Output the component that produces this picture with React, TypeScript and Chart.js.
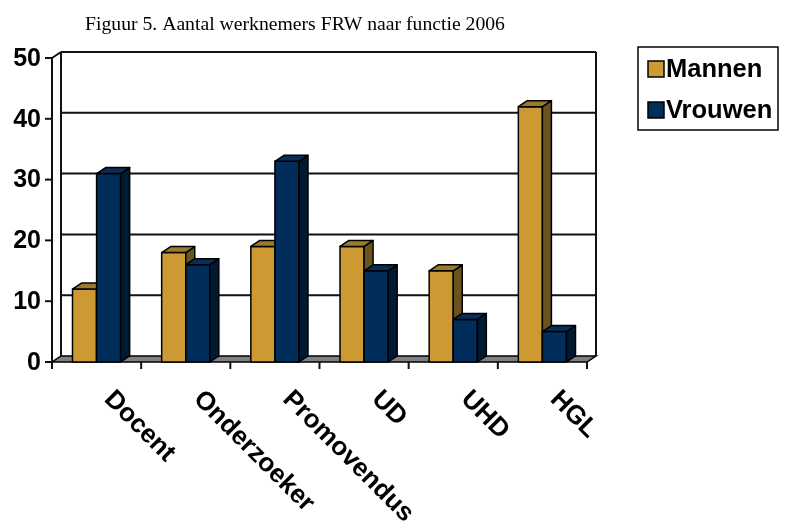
import React, { useEffect, useRef } from "react";
import { Chart, registerables } from "chart.js";

Chart.register(...registerables);

const TITLE = "Figuur 5. Aantal werknemers FRW naar functie 2006";
const CATEGORIES = ["Docent", "Onderzoeker", "Promovendus", "UD", "UHD", "HGL"];
const MANNEN = [12, 18, 19, 19, 15, 42];
const VROUWEN = [31, 16, 33, 15, 7, 5];
const SERIES_NAMES = ["Mannen", "Vrouwen"];
const Y_TICKS = [0, 10, 20, 30, 40, 50];

const FACE = [
  { front: "#CC9933", top: "#9C7A2C", side: "#6B5221" },
  { front: "#002D59", top: "#0A2D55", side: "#001A33" },
];

const DX = 9;
const DY = 6;

const threeD = {
  id: "threeD",
  beforeDatasetsDraw(chart: any) {
    const ctx = chart.ctx;
    const { left, right, top, bottom } = chart.chartArea;
    const y = chart.scales.y;
    const x = chart.scales.x;
    ctx.save();
    // floor
    ctx.beginPath();
    ctx.moveTo(left, bottom);
    ctx.lineTo(right, bottom);
    ctx.lineTo(right + DX, bottom - DY);
    ctx.lineTo(left + DX, bottom - DY);
    ctx.closePath();
    ctx.fillStyle = "#808080";
    ctx.fill();
    ctx.strokeStyle = "#000";
    ctx.lineWidth = 1.5;
    ctx.stroke();
    // back wall gridlines
    ctx.lineWidth = 2;
    ctx.strokeStyle = "#111";
    for (const v of Y_TICKS) {
      if (v === 0) continue;
      const py = y.getPixelForValue(v) - DY;
      ctx.beginPath();
      ctx.moveTo(left + DX, py);
      ctx.lineTo(right + DX, py);
      ctx.stroke();
    }
    // wall edges
    ctx.beginPath();
    ctx.moveTo(left + DX, top - DY);
    ctx.lineTo(left + DX, bottom - DY);
    ctx.moveTo(right + DX, top - DY);
    ctx.lineTo(right + DX, bottom - DY);
    ctx.moveTo(left, top);
    ctx.lineTo(left + DX, top - DY);
    ctx.stroke();
    // front axis
    ctx.beginPath();
    ctx.moveTo(left, top);
    ctx.lineTo(left, bottom + 6);
    ctx.stroke();
    // y ticks + labels
    ctx.fillStyle = "#000";
    ctx.font = "bold 25px 'Liberation Sans', Arial, sans-serif";
    ctx.textAlign = "right";
    ctx.textBaseline = "middle";
    for (const v of Y_TICKS) {
      const py = y.getPixelForValue(v);
      ctx.beginPath();
      ctx.moveTo(left - 7, py);
      ctx.lineTo(left, py);
      ctx.stroke();
      ctx.fillText(String(v), left - 11, py + 1);
    }
    // category ticks
    const n = CATEGORIES.length;
    const w = (right - left) / n;
    ctx.lineWidth = 2;
    for (let i = 0; i <= n; i++) {
      const px = left + i * w;
      ctx.beginPath();
      ctx.moveTo(px, bottom);
      ctx.lineTo(px, bottom + 7);
      ctx.stroke();
    }
    // category labels
    ctx.font = "bold 26px 'Liberation Sans', Arial, sans-serif";
    ctx.textAlign = "left";
    ctx.textBaseline = "top";
    CATEGORIES.forEach((c, i) => {
      const cx = x.getPixelForValue(i);
      ctx.save();
      ctx.translate(cx + 21, bottom + 24);
      ctx.rotate(Math.PI / 4);
      ctx.fillText(c, 0, 0);
      ctx.restore();
    });
    ctx.restore();
  },
  afterDatasetsDraw(chart: any) {
    const ctx = chart.ctx;
    ctx.save();
    ctx.strokeStyle = "#000";
    ctx.lineWidth = 1.5;
    ctx.lineJoin = "round";
    const n = CATEGORIES.length;
    for (let j = 0; j < n; j++) {
      for (let d = 0; d < 2; d++) {
        const el: any = chart.getDatasetMeta(d).data[j];
        const x0 = el.x - el.width / 2;
        const x1 = el.x + el.width / 2;
        const yt = el.y;
        const yb = el.base;
        const f = FACE[d];
        // front
        ctx.fillStyle = f.front;
        ctx.beginPath();
        ctx.rect(x0, yt, x1 - x0, yb - yt);
        ctx.fill();
        ctx.stroke();
        // side
        ctx.fillStyle = f.side;
        ctx.beginPath();
        ctx.moveTo(x1, yt);
        ctx.lineTo(x1 + DX, yt - DY);
        ctx.lineTo(x1 + DX, yb - DY);
        ctx.lineTo(x1, yb);
        ctx.closePath();
        ctx.fill();
        ctx.stroke();
        // top
        ctx.fillStyle = f.top;
        ctx.beginPath();
        ctx.moveTo(x0, yt);
        ctx.lineTo(x0 + DX, yt - DY);
        ctx.lineTo(x1 + DX, yt - DY);
        ctx.lineTo(x1, yt);
        ctx.closePath();
        ctx.fill();
        ctx.stroke();
      }
    }
    ctx.restore();
  },
  afterDraw(chart: any) {
    const ctx = chart.ctx;
    ctx.save();
    // title
    ctx.fillStyle = "#000";
    ctx.font = "19.7px 'Liberation Serif', 'Times New Roman', serif";
    ctx.textAlign = "center";
    ctx.textBaseline = "alphabetic";
    ctx.fillText(TITLE, 295, 30);
    // legend
    ctx.lineWidth = 1.5;
    ctx.strokeStyle = "#000";
    ctx.strokeRect(638, 47, 140, 83);
    ctx.font = "bold 25.5px 'Liberation Sans', Arial, sans-serif";
    ctx.textAlign = "left";
    const rows = [69, 110];
    SERIES_NAMES.forEach((name, i) => {
      const cy = rows[i];
      ctx.fillStyle = FACE[i].front;
      ctx.fillRect(648, cy - 8, 16, 16);
      ctx.strokeRect(648, cy - 8, 16, 16);
      ctx.fillStyle = "#000";
      ctx.textBaseline = "middle";
      ctx.fillText(name, 666, cy + 1);
    });
    ctx.restore();
  },
};

export default function App() {
  const ref = useRef<HTMLCanvasElement>(null);
  useEffect(() => {
    if (!ref.current) return;
    const chart = new Chart(ref.current, {
      type: "bar",
      data: {
        labels: CATEGORIES,
        datasets: [
          { label: SERIES_NAMES[0], data: MANNEN, backgroundColor: "rgba(0,0,0,0)", borderWidth: 0 },
          { label: SERIES_NAMES[1], data: VROUWEN, backgroundColor: "rgba(0,0,0,0)", borderWidth: 0 },
        ],
      },
      options: {
        responsive: false,
        animation: false,
        events: [],
        layout: { padding: { left: 52, right: 201, top: 58, bottom: 160 } },
        datasets: { bar: { categoryPercentage: 0.54, barPercentage: 1.0 } },
        scales: {
          x: { display: false },
          y: { display: false, min: 0, max: 50 },
        },
        plugins: {
          legend: { display: false },
          title: { display: false },
          tooltip: { enabled: false },
        },
      },
      plugins: [threeD],
    });
    return () => chart.destroy();
  }, []);
  return (
    <div style={{ position: "absolute", left: 0, top: 0, width: 788, height: 522, background: "#fff" }}>
      <canvas ref={ref} width={788} height={522} style={{ width: 788, height: 522 }} />
    </div>
  );
}
